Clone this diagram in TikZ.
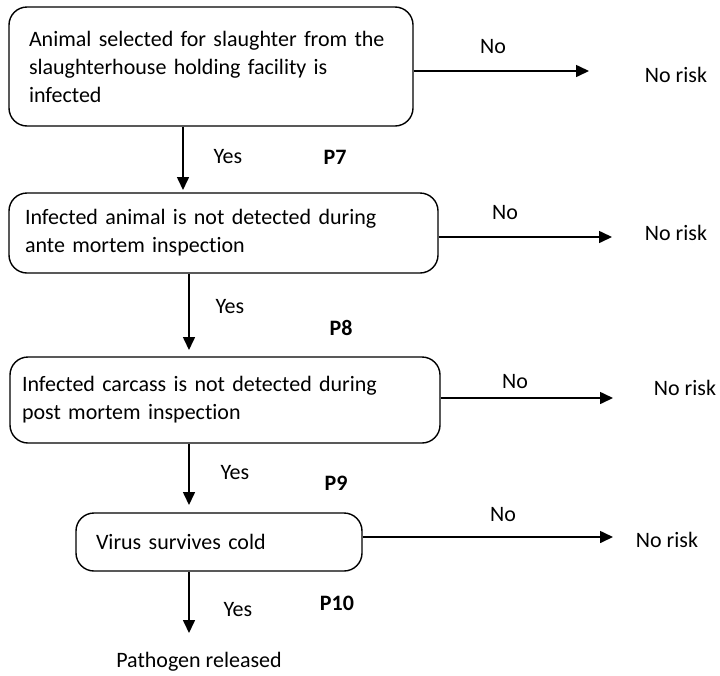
\documentclass[tikz,border=0pt]{standalone}
\usepackage{fontspec}
\setmainfont{Carlito}[Ligatures=NoCommon]
\usetikzlibrary{arrows.meta}

\begin{document}
\begin{tikzpicture}[x=1pt,y=-1pt,
			every node/.style={font=\fontsize{22}{28}\selectfont},
			qbox/.style={draw,line width=1.4pt,rounded corners=18pt,align=left},
			arr/.style={line width=1.6pt,-{Triangle[length=13pt,width=12pt]}},
			plab/.style={font=\fontsize{22}{28}\selectfont\bfseries}]
			
			\useasboundingbox (0,0) rectangle (720,675);
			
			% Step 1: infected animal
			\node[qbox,inner xsep=20pt,text width=364pt,minimum height=119pt] (q1) at (211,66.5)
			{Animal selected for slaughter from the\\slaughterhouse holding facility is\\infected};
			\coordinate (e1) at (589,71);
			\draw[arr] (q1.east |- e1) -- (e1);
			\node (n1) at (493,47) {No};
			\node (r1) at (676,75) {No risk};
			\coordinate (d1) at (183,190);
			\draw[arr] (q1.south -| d1) -- (d1);
			\node[anchor=west] (y1) at (210,157) {Yes};
			\node[plab] (p7) at (335,157) {P7};
			
			% Step 2: ante mortem
			\node[qbox,inner xsep=16pt,text width=397pt,minimum height=80pt] (q2) at (223.5,233)
			{Infected animal is not detected during\\ante mortem inspection};
			\coordinate (e2) at (612,237);
			\draw[arr] (q2.east |- e2) -- (e2);
			\node (n2) at (505,213) {No};
			\node (r2) at (676,233) {No risk};
			\coordinate (d2) at (189,350);
			\draw[arr] (q2.south -| d2) -- (d2);
			\node[anchor=west] (y2) at (212,307) {Yes};
			\node[plab] (p8) at (341,328) {P8};
			
			% Step 3: post mortem
			\node[qbox,inner xsep=12pt,text width=406pt,minimum height=86pt] (q3) at (225,400)
			{Infected carcass is not detected during\\post mortem inspection};
			\coordinate (e3) at (613,398);
			\draw[arr] (q3.east |- e3) -- (e3);
			\node (n3) at (515,382) {No};
			\node (r3) at (685,388) {No risk};
			\coordinate (d3) at (189,505);
			\draw[arr] (q3.south -| d3) -- (d3);
			\node[anchor=west] (y3) at (217,473) {Yes};
			\node[plab] (p9) at (336,483) {P9};
			
			% Step 4: cold storage
			\node[qbox,inner xsep=20pt,text width=246pt,minimum height=58pt] (q4) at (219,542)
			{Virus survives cold};
			\coordinate (e4) at (613,537);
			\draw[arr] (q4.east |- e4) -- (e4);
			\node (n4) at (503,515) {No};
			\node (r4) at (667,540) {No risk};
			\coordinate (d4) at (189,633);
			\draw[arr] (q4.south -| d4) -- (d4);
			\node[anchor=west] (y4) at (220,610) {Yes};
			\node[plab] (p10) at (337,603) {P10};
			
			% Outcome
			\node (out) at (199,662) {Pathogen released};
			
		\end{tikzpicture}
\end{document}
